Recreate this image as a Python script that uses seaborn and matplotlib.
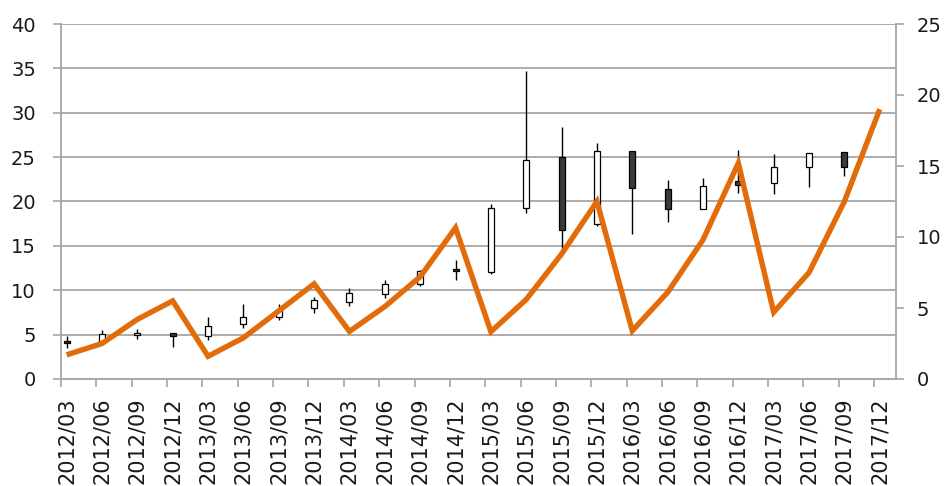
import numpy as np
import matplotlib
matplotlib.use("Agg")
import matplotlib.pyplot as plt
import seaborn as sns

sns.set_theme(style="white")
plt.rcParams["font.family"] = ["DejaVu Sans"]

# quarterly price candles (left axis) and the orange series (right axis)
quarters = ["2012/03", "2012/06", "2012/09", "2012/12", "2013/03", "2013/06",
            "2013/09", "2013/12", "2014/03", "2014/06", "2014/09", "2014/12",
            "2015/03", "2015/06", "2015/09", "2015/12", "2016/03", "2016/06",
            "2016/09", "2016/12", "2017/03", "2017/06", "2017/09", "2017/12"]
open_ = [4.3, 4.2, 5.0, 5.2, 4.8, 6.2, 7.0, 8.0, 8.7, 9.55, 10.7, 12.2,
         12.0, 19.3, 25.0, 17.5, 25.7, 21.4, 19.2, 22.3, 22.1, 23.85, 25.6, np.nan]
close = [4.1, 5.1, 5.1, 4.9, 6.0, 7.0, 7.8, 8.9, 9.65, 10.65, 12.2, 12.1,
         19.3, 24.7, 16.8, 25.7, 21.5, 19.1, 21.8, 21.9, 23.85, 25.5, 23.85, np.nan]
high = [4.8, 5.5, 5.6, 5.2, 6.95, 8.5, 8.5, 9.2, 10.3, 11.15, 12.3, 13.4,
        19.7, 34.7, 28.4, 26.6, 25.7, 22.4, 22.6, 25.8, 25.35, 25.5, 25.6, np.nan]
low = [3.5, 4.0, 4.5, 3.6, 4.45, 5.8, 6.6, 7.4, 8.25, 9.1, 10.5, 11.2,
       11.8, 18.7, 13.9, 17.2, 16.3, 17.65, 19.2, 21.0, 20.85, 21.6, 22.9, np.nan]
growth = [1.7, 2.5, 4.2, 5.5, 1.6, 2.9, 4.8, 6.7, 3.35, 5.1, 7.2, 10.65,
          3.33, 5.6, 8.8, 12.5, 3.4, 6.1, 9.8, 15.2, 4.7, 7.5, 12.5, 19.0]

grey = "#a6a6a6"
text_col = "#1a1a1a"
x = np.arange(len(quarters))
o = np.array(open_)
c = np.array(close)
up = c >= o

fig, ax = plt.subplots(figsize=(9.53, 4.86), dpi=100)
fig.subplots_adjust(left=61/953, right=896/953, top=1-24/486, bottom=1-379/486)

# wicks then bodies
ax.vlines(x, low, high, color="black", linewidth=1.0, zorder=2)
body = np.where(np.abs(c - o) < 0.15, 0.15, c - o)
ax.bar(x[up], body[up], bottom=o[up], width=0.17, color="white",
       edgecolor="black", linewidth=0.9, zorder=3)
ax.bar(x[~up], body[~up], bottom=o[~up], width=0.17, color="#3a3a3a",
       edgecolor="black", linewidth=0.9, zorder=3)

ax.set_ylim(0, 40)
ax.set_yticks(range(0, 41, 5))
ax.set_xlim(-0.16, 23.46)
ax.set_xticks(x)
ax.set_xticklabels(quarters, rotation=90, va="top", ha="center")
ax.set_xticks(x - 0.16, minor=True)
ax.yaxis.grid(True, color=grey, linewidth=1.3)
ax.set_axisbelow(True)
ax.tick_params(axis="x", which="major", length=0, pad=13, labelsize=15, labelcolor=text_col)
ax.tick_params(axis="x", which="minor", bottom=True, length=6, width=1.2, color=grey, direction="out")
ax.tick_params(axis="y", left=True, length=6, width=1.2, color=grey, direction="out",
               pad=12, labelsize=14, labelcolor=text_col)
for side in ["top", "right"]:
    ax.spines[side].set_visible(False)
for side in ["left", "bottom"]:
    ax.spines[side].set_color(grey)
    ax.spines[side].set_linewidth(1.3)

# right axis line
ax2 = ax.twinx()
sns.lineplot(x=x, y=growth, ax=ax2, color="#e36c0a", linewidth=3.9,
             solid_joinstyle="miter", solid_capstyle="butt", zorder=4)
ax2.set_ylim(0, 25)
ax2.set_yticks(range(0, 26, 5))
ax2.tick_params(axis="y", right=True, length=6, width=1.2, color=grey, direction="out",
                pad=9, labelsize=14, labelcolor=text_col)
for side in ["top", "left", "bottom"]:
    ax2.spines[side].set_visible(False)
ax2.spines["right"].set_color(grey)
ax2.spines["right"].set_linewidth(1.3)
ax2.grid(False)

fig.savefig("out.png", dpi=100)
